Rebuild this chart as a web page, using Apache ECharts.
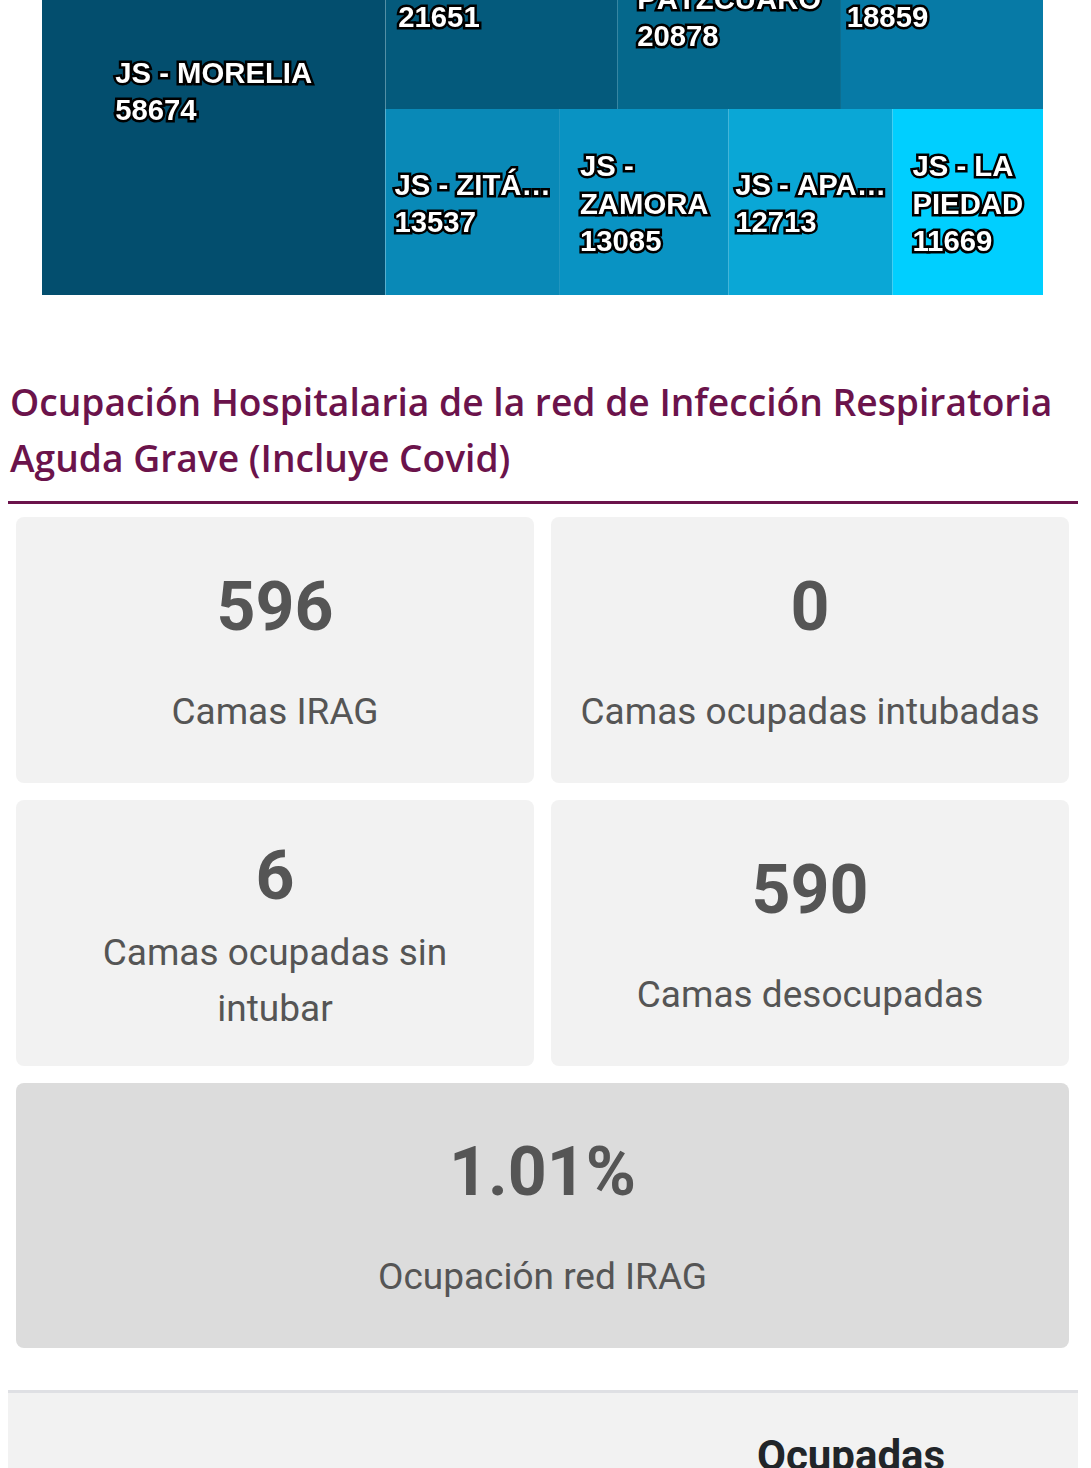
<!DOCTYPE html>
<html lang="es">
<head>
<meta charset="utf-8">
<title>Treemap jurisdicciones</title>
<script src="https://cdn.jsdelivr.net/npm/echarts@6.0.0/dist/echarts.min.js"></script>
<style>
  html, body { margin:0; padding:0; background:#ffffff; }
  body { position:relative; width:1091px; height:1468px; overflow:hidden; font-family:Roboto, "Noto Sans", sans-serif; }
  #treemap { position:absolute; left:42px; top:-115px; width:1001px; height:410px; }
  .titulo { position:absolute; left:10px; top:373.5px; width:1070px; margin:0; font-family:"Open Sans", sans-serif; font-weight:600; font-size:37.2px; line-height:56px; color:#6b134b; }
  .regla { position:absolute; left:8px; top:501px; width:1070px; height:3px; background:#6b134b; }
  .tarjeta { position:absolute; width:518px; height:266px; box-sizing:border-box; padding:31px 26.5px 25px; display:flex; flex-direction:column; justify-content:space-around; align-items:center; text-align:center; background:#f2f2f2; border-radius:8px; color:#555555; }
  .t0 { left:16px; top:517px; }
  .t1 { left:551px; top:517px; }
  .t2 { left:16px; top:800px; }
  .t3 { left:551px; top:800px; }
  .t4 { left:16px; top:1083px; width:1053px; height:265px; background:#dcdcdc; }
  .num { font-size:68px; font-weight:700; line-height:normal; }
  .etq { font-size:37px; line-height:56px; }
  .tabla { position:absolute; left:8px; top:1390px; width:1070px; height:200px; background:#f2f2f2; border-top:3px solid #dfe0e4; }
  .encabezado { position:absolute; left:757px; top:1431px; font-size:42px; font-weight:700; color:#212529; line-height:normal; }
</style>
</head>
<body>
<div id="treemap"></div>
<h2 class="titulo" id="titulo"></h2>
<div class="regla"></div>
<div id="tarjetas"></div>
<div class="tabla"></div>
<div class="encabezado" id="encabezado"></div>
<script>
// ---- Datos del treemap ----
const nombres = ['JS - MORELIA', 'JS - URUAPAN', 'JS - PÁTZCUARO', 'JS - LÁZARO\u00a0CÁRDENAS', 'JS - ZITÁCUARO', 'JS - ZAMORA', 'JS - APATZINGÁN', 'JS - LA PIEDAD'];
const valores = [58674, 21651, 20878, 18859, 13537, 13085, 12713, 11669];
const colores = ['#034e6e', '#045a7c', '#05688c', '#077aa6', '#0989b7', '#0993c3', '#0aa7d6', '#00cfff'];
// agrupación jerárquica (índices) de las jurisdicciones junto a Morelia
const filas = [[1, 2, 3], [4, 5, 6, 7]];

// ---- Datos de los indicadores ----
const tituloTexto = 'Ocupación Hospitalaria de la red de Infección Respiratoria Aguda Grave (Incluye Covid)';
const indicadores = ['596', '0', '6', '590', '1.01%'];
const indicadoresEtiquetas = ['Camas IRAG', 'Camas ocupadas intubadas', 'Camas ocupadas sin intubar', 'Camas desocupadas', 'Ocupación red IRAG'];
const columnaTabla = 'Ocupadas';

document.getElementById('titulo').textContent = tituloTexto;
document.getElementById('encabezado').textContent = columnaTabla;
const cont = document.getElementById('tarjetas');
indicadores.forEach((v, i) => {
  const t = document.createElement('div');
  t.className = 'tarjeta t' + i;
  const n = document.createElement('div'); n.className = 'num'; n.textContent = v;
  const e = document.createElement('div'); e.className = 'etq'; e.textContent = indicadoresEtiquetas[i];
  t.appendChild(n); t.appendChild(e);
  cont.appendChild(t);
});

// ---- Treemap ----
const FUENTE = '"Liberation Sans", Arial, sans-serif';
const TAM = 29.3;
const chart = echarts.init(document.getElementById('treemap'), null, { renderer: 'canvas' });

function hoja(i, extra) {
  const d = { name: nombres[i], value: valores[i], itemStyle: { color: colores[i] } };
  if (extra) d.label = extra[i];
  return d;
}
function datos(extra) {
  return [
    hoja(0, extra),
    { name: 'resto', children: filas.map((f, k) => ({ name: 'fila' + k, children: f.map(i => hoja(i, extra)) })) }
  ];
}
function opcion(extra, textos) {
  return {
    animation: false,
    series: [{
      type: 'treemap',
      left: 0, top: 0, right: 0, bottom: 0,
      roam: false,
      nodeClick: false,
      sort: false,
      squareRatio: 1.7617,
      breadcrumb: { show: false },
      itemStyle: { borderWidth: 0, gapWidth: 0 },
      upperLabel: { show: false },
      label: {
        show: true,
        position: 'inside',
        align: 'left',
        verticalAlign: 'middle',
        padding: 0,
        overflow: 'none',
        color: '#ffffff',
        fontFamily: FUENTE,
        fontWeight: 'bold',
        fontSize: TAM,
        lineHeight: 37.5,
        textBorderColor: '#000000',
        textBorderWidth: 5,
        formatter: p => (textos && textos[p.name]) ? textos[p.name] : ''
      },
      emphasis: { disabled: true },
      data: datos(extra)
    }]
  };
}

chart.setOption(opcion(null, null));

// Etiquetas: ajuste de texto según el ancho de cada celda calculado por ECharts
const lista = chart.getModel().getSeriesByIndex(0).getData();
const ctx = document.createElement('canvas').getContext('2d');
ctx.font = 'bold ' + TAM + 'px ' + FUENTE;
const med = s => ctx.measureText(s).width;
const PAD = 4.5;
function partir(nombre, ancho) {
  const palabras = nombre.split(' ');
  if (palabras.some(w => med(w) > ancho)) {
    if (med(nombre) <= ancho) return [nombre];
    let s = nombre;
    while (s.length > 1 && med(s.trimEnd() + '…') > ancho) s = s.slice(0, -1);
    return [s.trimEnd() + '…'];
  }
  const lineas = [];
  let cur = '';
  for (const w of palabras) {
    const t = cur ? cur + ' ' + w : w;
    if (!cur || med(t) <= ancho) cur = t; else { lineas.push(cur); cur = w; }
  }
  lineas.push(cur);
  return lineas;
}
const textos = {};
const extra = [];
for (let k = 0; k < lista.count(); k++) {
  const nm = lista.getName(k);
  const i = nombres.indexOf(nm);
  if (i < 0) continue;
  const lay = lista.getItemLayout(k);
  const lineas = partir(nm, lay.width - 2 * PAD).concat([String(valores[i])]);
  const anchoBloque = Math.max.apply(null, lineas.map(med));
  textos[nm] = lineas.join('\n');
  extra[i] = { offset: [-anchoBloque / 2, 3.5] };
}
chart.setOption(opcion(extra, textos), true);
</script>
</body>
</html>
